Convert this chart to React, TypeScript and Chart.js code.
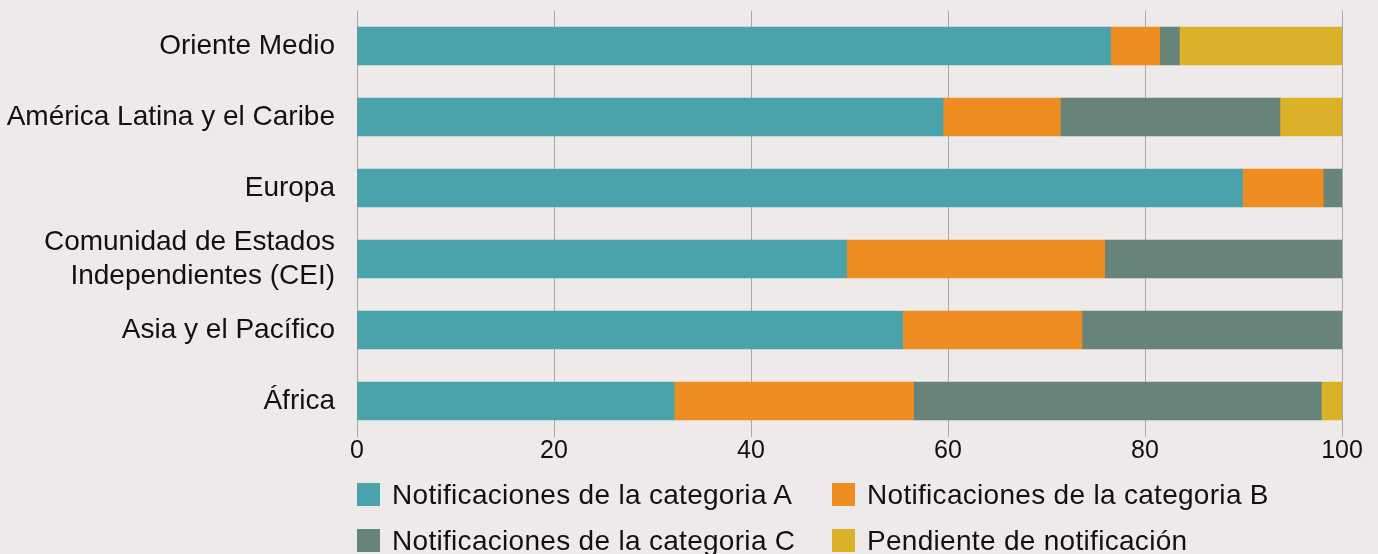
import React, { useEffect, useRef } from "react";
import { Chart, registerables } from "chart.js";

Chart.register(...registerables);

const categories: (string | string[])[] = [
  "Oriente Medio",
  "América Latina y el Caribe",
  "Europa",
  ["Comunidad de Estados", "Independientes (CEI)"],
  "Asia y el Pacífico",
  "África",
];

const seriesNames = [
  "Notificaciones de la categoria A",
  "Notificaciones de la categoria B",
  "Notificaciones de la categoria C",
  "Pendiente de notificación",
];

const catA = [76.5, 59.5, 89.9, 49.7, 55.4, 32.2];
const catB = [5.0, 11.9, 8.2, 26.2, 18.2, 24.3];
const catC = [2.0, 22.3, 1.9, 24.1, 26.4, 41.4];
const pending = [16.5, 6.3, 0, 0, 0, 2.1];

const colors = ["#4AA3AB", "#EE8E22", "#68837A", "#DBB12A"];

const xTicks = [0, 20, 40, 60, 80, 100];

const FONT = "'Liberation Sans', Arial, Helvetica, sans-serif";
const BG = "#EEEAE9";

export default function App() {
  const ref = useRef<HTMLCanvasElement | null>(null);

  useEffect(() => {
    document.body.style.margin = "0";
    const ctx = ref.current;
    if (!ctx) return;
    const series = [catA, catB, catC, pending];
    const chart = new Chart(ctx, {
      type: "bar",
      data: {
        labels: categories,
        datasets: series.map((d, i) => ({
          label: seriesNames[i],
          data: d,
          backgroundColor: colors[i],
          borderWidth: 0,
          barThickness: 38,
        })),
      },
      options: {
        indexAxis: "y",
        animation: false,
        responsive: false,
        maintainAspectRatio: false,
        layout: { padding: { top: 10.5, right: 36, bottom: 77.5, left: 0 } },
        plugins: {
          legend: { display: false },
          tooltip: { enabled: false },
        },
        scales: {
          x: {
            stacked: true,
            min: 0,
            max: 100,
            afterBuildTicks: (scale: any) => {
              scale.ticks = xTicks.map((v) => ({ value: v }));
            },
            afterFit: (scale: any) => {
              scale.height = 40;
              scale.paddingLeft = 0;
              scale.paddingRight = 0;
            },
            grid: {
              display: true,
              color: "#A8A8A8",
              lineWidth: 1,
              drawTicks: false,
            },
            border: { display: false },
            ticks: {
              color: "#111",
              padding: 0,
              font: { family: FONT, size: 25 },
            },
          },
          y: {
            stacked: true,
            afterFit: (scale: any) => {
              scale.width = 357;
              scale.paddingTop = 0;
              scale.paddingBottom = 0;
            },
            grid: { display: false, drawTicks: false },
            border: { display: false },
            ticks: {
              autoSkip: false,
              color: "#111",
              padding: 22,
              font: { family: FONT, size: 28, lineHeight: 1.2 },
            },
          },
        },
      },
    });
    return () => chart.destroy();
  }, []);

  const legendItems = [
    { name: seriesNames[0], color: colors[0], left: 357, top: 480.5 },
    { name: seriesNames[1], color: colors[1], left: 832, top: 480.5 },
    { name: seriesNames[2], color: colors[2], left: 357, top: 526.5 },
    { name: seriesNames[3], color: colors[3], left: 832, top: 526.5 },
  ];

  return (
    <div
      style={{
        position: "fixed",
        left: 0,
        top: 0,
        width: 1378,
        height: 554,
        background: BG,
        overflow: "hidden",
      }}
    >
      <canvas ref={ref} width={1378} height={554} style={{ display: "block" }} />
      {legendItems.map((it) => (
        <div
          key={it.name}
          style={{
            position: "absolute",
            left: it.left,
            top: it.top,
            height: 28,
            display: "flex",
            alignItems: "center",
            fontFamily: FONT,
            fontSize: 28,
            lineHeight: 1,
            letterSpacing: "0.3px",
            color: "#111",
            whiteSpace: "nowrap",
          }}
        >
          <span
            style={{
              display: "inline-block",
              width: 23,
              height: 23,
              background: it.color,
              marginRight: 12,
            }}
          />
          <span>{it.name}</span>
        </div>
      ))}
    </div>
  );
}
